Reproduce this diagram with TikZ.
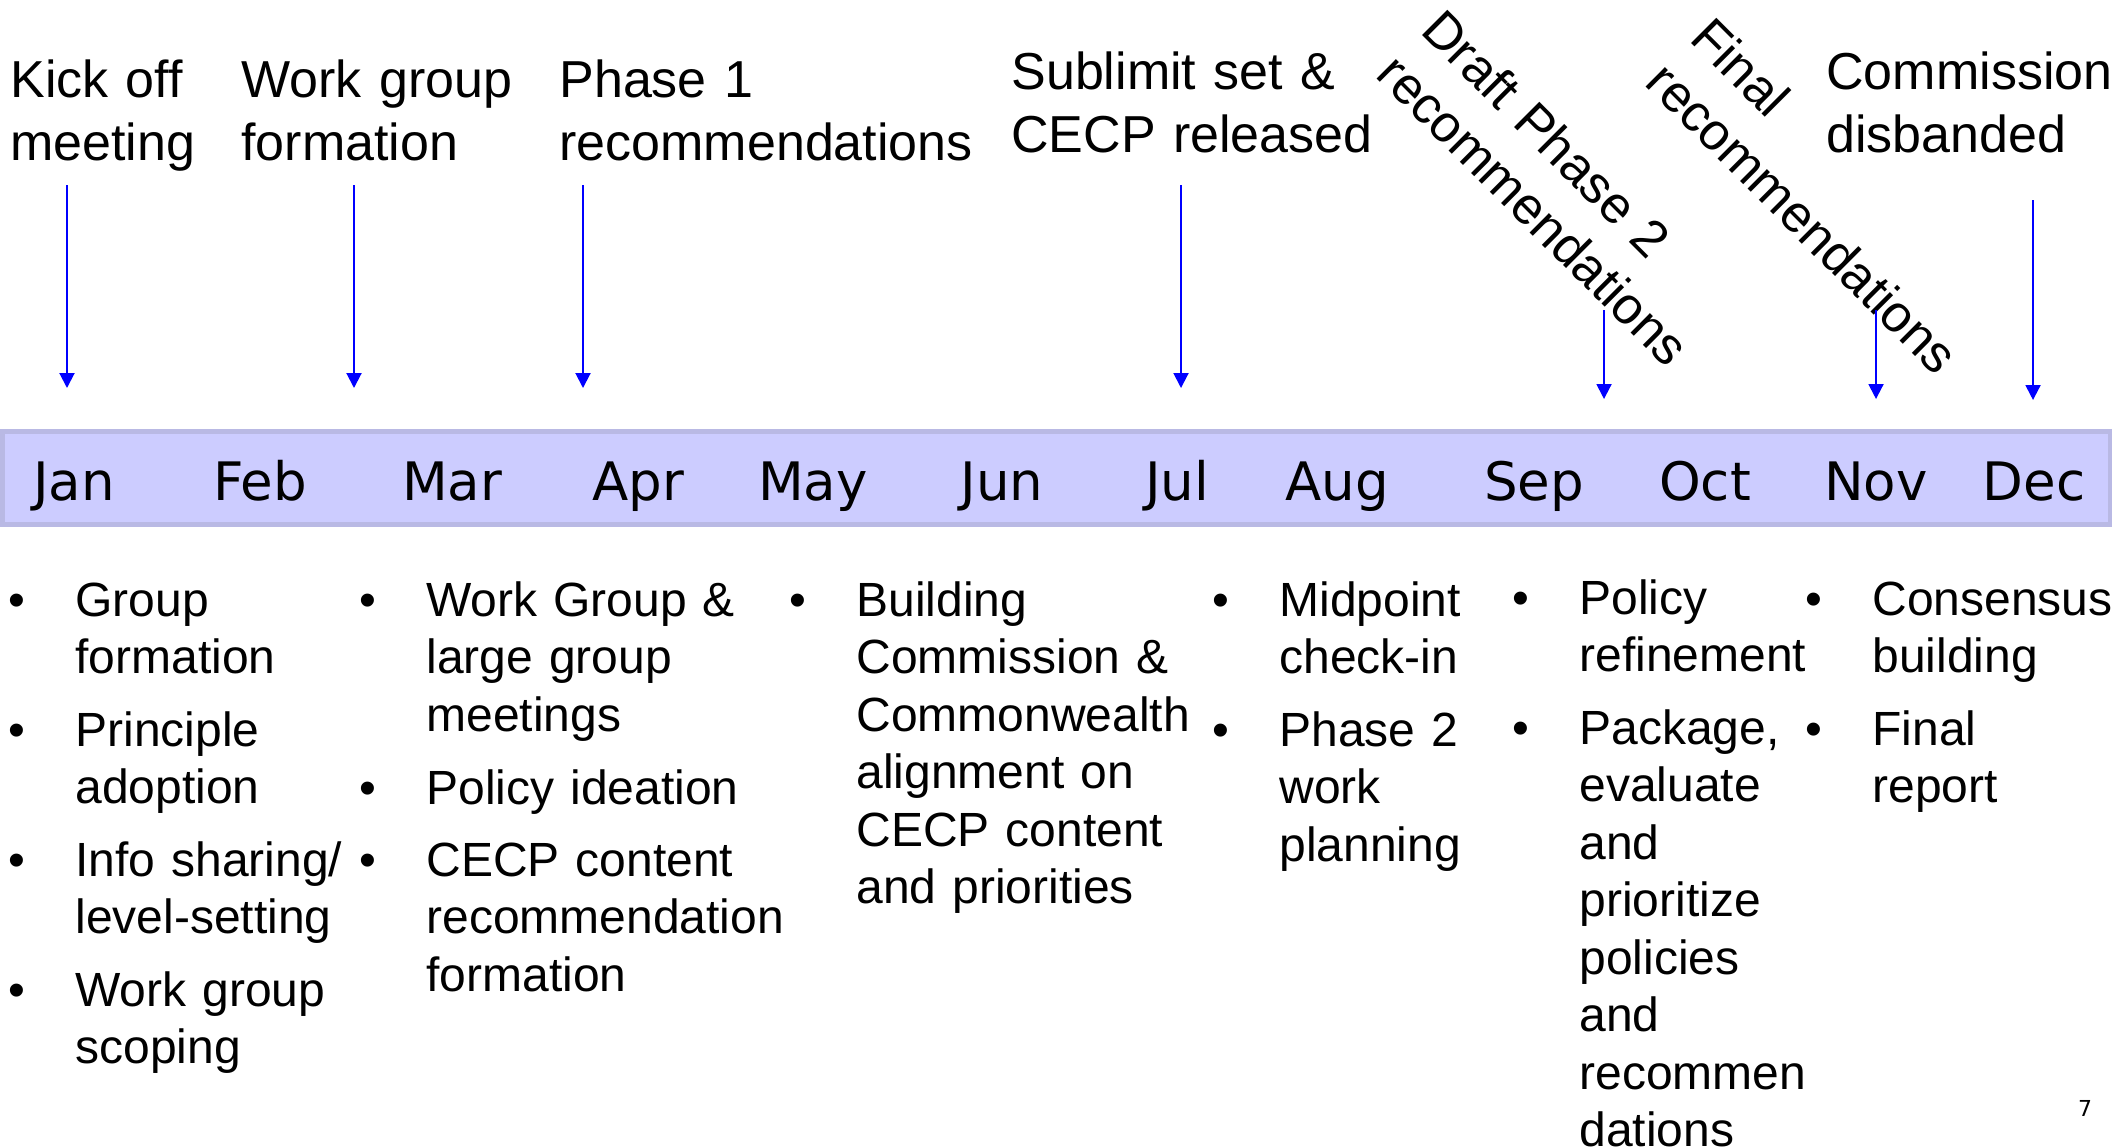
\documentclass[tikz,border=0pt]{standalone}
\usepackage{fontspec}
\setmainfont{Liberation Sans}
\newfontfamily\monthfont{DejaVu Sans}
\usetikzlibrary{arrows.meta}
\definecolor{barfill}{RGB}{204,204,255}
\definecolor{barline}{RGB}{185,185,228}
\newcommand{\bull}{\llap{\textbullet\hspace{25pt}}}

\begin{document}
\begin{tikzpicture}[x=0.5pt, y=-0.5pt,
    event/.style={anchor=base west, inner sep=0pt, align=left, text width=230pt,
        font=\fontsize{26pt}{31.5pt}\selectfont},
    month/.style={anchor=base, inner sep=0pt, font=\monthfont\fontsize{26.5pt}{30pt}\selectfont},
    pointer/.style={blue, line width=1pt, -{Triangle[width=7.5pt, length=7.5pt]}},
    task/.style={anchor=base west, inner sep=0pt, align=left, text width=250pt,
        font=\fontsize{24pt}{28.75pt}\selectfont}]
    \useasboundingbox (0,0) rectangle (2112,1147);

    % time bar
    \draw[barline, fill=barfill, line width=2.5pt] (2,431) rectangle (2110,524);
    \node[month] (Jan) at (74,500) {Jan};
    \node[month] (Feb) at (260,500) {Feb};
    \node[month] (Mar) at (452,500) {Mar};
    \node[month] (Apr) at (638,500) {Apr};
    \node[month] (May) at (813,500) {May};
    \node[month] (Jun) at (1002,500) {Jun};
    \node[month] (Jul) at (1177,500) {Jul};
    \node[month] (Aug) at (1337,500) {Aug};
    \node[month] (Sep) at (1534,500) {Sep};
    \node[month] (Oct) at (1705,500) {Oct};
    \node[month] (Nov) at (1876,500) {Nov};
    \node[month] (Dec) at (2034,500) {Dec};

    % milestones
    \node[event] (KickOff) at (10,97) {Kick off\\meeting};
    \node[event] (WorkGroup) at (241,97) {Work group\\formation};
    \node[event] (Phase1) at (559,97) {Phase 1\\recommendations};
    \node[event] (Sublimit) at (1011,89) {Sublimit set \&\\CECP released};
    \node[event, rotate=-45] (Draft2) at (1419,32) {Draft Phase 2\\recommendations};
    \node[event, rotate=-45] (FinalRec) at (1688,40) {Final\\recommendations};
    \node[event] (Disband) at (1826,89) {Commission\\disbanded};

    \coordinate (KickOffS) at (67,185);     \coordinate (KickOffE) at (67,388);
    \coordinate (WorkGroupS) at (354,185);  \coordinate (WorkGroupE) at (354,388);
    \coordinate (Phase1S) at (583,185);     \coordinate (Phase1E) at (583,388);
    \coordinate (SublimitS) at (1181,185);  \coordinate (SublimitE) at (1181,388);
    \coordinate (Draft2S) at (1604,310);    \coordinate (Draft2E) at (1604,399);
    \coordinate (FinalRecS) at (1876,310);  \coordinate (FinalRecE) at (1876,399);
    \coordinate (DisbandS) at (2033,200);   \coordinate (DisbandE) at (2033,400);
    \draw[pointer] (KickOffS) -- (KickOffE);
    \draw[pointer] (WorkGroupS) -- (WorkGroupE);
    \draw[pointer] (Phase1S) -- (Phase1E);
    \draw[pointer] (SublimitS) -- (SublimitE);
    \draw[pointer] (Draft2S) -- (Draft2E);
    \draw[pointer] (FinalRecS) -- (FinalRecE);
    \draw[pointer] (DisbandS) -- (DisbandE);

    % activities
    \node[task] (GroupForm) at (75,616) {\bull Group\\formation};
    \node[task] (Principle) at (75,746) {\bull Principle\\adoption};
    \node[task] (InfoShare) at (75,876) {\bull Info sharing/\\level-setting};
    \node[task] (Scoping) at (75,1006) {\bull Work group\\scoping};

    \node[task] (Meetings) at (426,616) {\bull Work Group \&\\large group\\meetings};
    \node[task] (Ideation) at (426,804) {\bull Policy ideation};
    \node[task] (CECPRec) at (426,876) {\bull CECP content\\recommendation\\formation};

    \node[task] (Alignment) at (856,616) {\bull Building\\Commission \&\\Commonwealth\\alignment on\\CECP content\\and priorities};

    \node[task] (Midpoint) at (1279,616) {\bull Midpoint\\check-in};
    \node[task] (P2Plan) at (1279,746) {\bull Phase 2\\work\\planning};

    \node[task] (Refine) at (1579,614) {\bull Policy\\refinement};
    \node[task] (Package) at (1579,744) {\bull Package,\\evaluate\\and\\prioritize\\policies\\and\\recommen\\dations};

    \node[task] (Consensus) at (1872,615) {\bull Consensus\\building};
    \node[task] (Report) at (1872,745) {\bull Final\\report};

    \node[font=\monthfont\fontsize{11pt}{13pt}\selectfont, inner sep=0pt] (PageNo) at (2085,1108) {7};
\end{tikzpicture}
\end{document}
